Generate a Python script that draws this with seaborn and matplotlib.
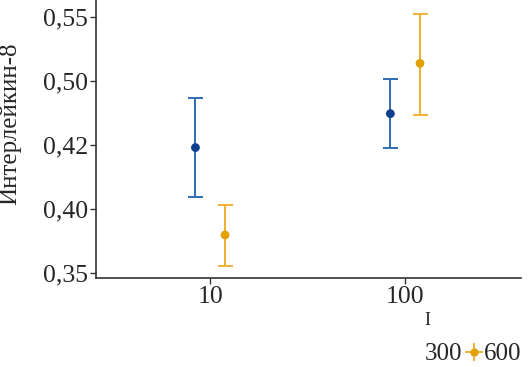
import numpy as np
import pandas as pd
import matplotlib
matplotlib.use("Agg")
import matplotlib.pyplot as plt
import seaborn as sns
from matplotlib.lines import Line2D
from matplotlib import font_manager

# ---- data ----
doses = [10, 100]
groups = ["300", "600"]
mean_300 = [0.448, 0.4745]
low_300 = [0.4094, 0.4479]
high_300 = [0.4865, 0.5013]
mean_600 = [0.3797, 0.5138]
low_600 = [0.3555, 0.4734]
high_600 = [0.4029, 0.5523]
ytick_vals = [0.35, 0.40, 0.45, 0.50, 0.55]
ytick_labels = ["0,35", "0,40", "0,42", "0,50", "0,55"]
xtick_vals = [10, 100]
xtick_labels = ["10", "100"]
ylabel = "Интерлейкин-8"
xlabel_fragment = "I"

sns.set_style("white")

def pick_font():
    cands = []
    for f in font_manager.fontManager.ttflist:
        if f.name in ("Liberation Serif", "STIX Two Text") and f.style == "normal" and f.weight in (400, "normal", "regular"):
            cands.append((0 if f.name == "Liberation Serif" else 1, f.fname))
    cands.sort()
    return cands[0][1] if cands else None

fpath = pick_font()
FS = 18.5
if fpath:
    fp = font_manager.FontProperties(fname=fpath, size=FS)
    fpl = font_manager.FontProperties(fname=fpath, size=18)
    fps = font_manager.FontProperties(fname=fpath, size=13)
else:
    fp = font_manager.FontProperties(family="serif", size=FS)
    fpl = font_manager.FontProperties(family="serif", size=18)
    fps = font_manager.FontProperties(family="serif", size=13)

line_col = {"300": "#2f6db3", "600": "#f0b132"}
pt_col = {"300": "#0c3f8f", "600": "#e3a106"}
shift = {"300": 10 ** -0.075, "600": 10 ** 0.077}

rows = []
for g, m, lo, hi in [("300", mean_300, low_300, high_300), ("600", mean_600, low_600, high_600)]:
    for d, mm, l, h in zip(doses, m, lo, hi):
        rows.append(dict(group=g, dose=d, x=d * shift[g], mean=mm, low=l, high=h))
df = pd.DataFrame(rows)

W, H = 529, 367
fig = plt.figure(figsize=(W / 100, H / 100), dpi=100)
ax = fig.add_axes([0.1815, 0.2425, 0.985 - 0.1815, 0.7575])
ax.set_xscale("log")

for g in groups:
    sub = df[df.group == g]
    ax.errorbar(sub.x, sub["mean"], yerr=[sub["mean"] - sub.low, sub.high - sub["mean"]],
                fmt="none", ecolor=line_col[g], elinewidth=1.4, capsize=5.4, capthick=1.4, zorder=2)

sns.scatterplot(data=df, x="x", y="mean", hue="group", palette=pt_col, s=40,
                edgecolor="none", legend=False, ax=ax, zorder=3)

ax.set_xlim(2.6, 394)
ax.set_ylim(0.3461, 0.5633)
ax.set_xticks(xtick_vals)
ax.set_xticklabels(xtick_labels, fontproperties=fp)
ax.xaxis.set_minor_locator(matplotlib.ticker.NullLocator())
ax.set_yticks(ytick_vals)
ax.set_yticklabels(ytick_labels, fontproperties=fp)
ax.tick_params(axis="both", length=4, width=1, color="#333333",
               direction="out", bottom=True, left=True, pad=2)
ax.set_xlabel("")
ax.set_ylabel("")
fig.text(10 / W, 1 - 124 / H, ylabel, fontproperties=fpl, rotation=90, ha="center", va="center")
fig.text(427 / W, 1 - 325 / H, xlabel_fragment, fontproperties=fps, ha="center", va="baseline")
for s in ["top", "right"]:
    ax.spines[s].set_visible(False)
for s in ["left", "bottom"]:
    ax.spines[s].set_color("#333333")
    ax.spines[s].set_linewidth(1.2)

# legend-like row
fig.text(443 / W, 7 / H, "300", fontproperties=fpl, ha="center", va="baseline")
fig.text(503 / W, 7 / H, "600", fontproperties=fpl, ha="center", va="baseline")
fig.add_artist(Line2D([474 / W], [15 / H], transform=fig.transFigure, marker="+", markersize=13,
                      markeredgewidth=1.4, color=line_col["600"], linestyle="none"))
fig.add_artist(Line2D([474 / W], [15 / H], transform=fig.transFigure, marker="o", markersize=5,
                      color=pt_col["600"], linestyle="none"))

fig.savefig("out.png", dpi=100)
